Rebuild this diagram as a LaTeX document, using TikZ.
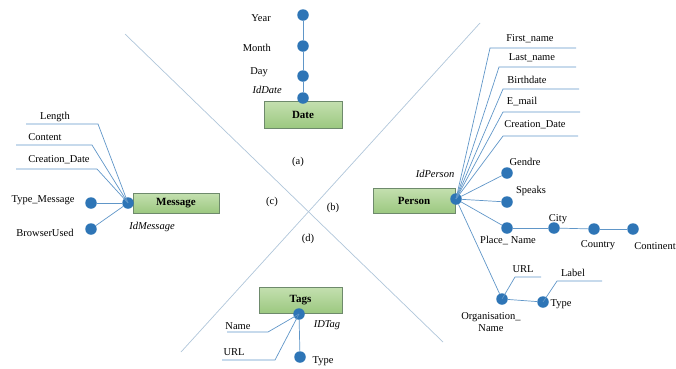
\documentclass[tikz,border=0pt]{standalone}
\usepackage{fontspec}
\setmainfont{Liberation Serif}
\usepackage{tikz}
\usetikzlibrary{positioning,calc}

\definecolor{dotblue}{RGB}{46,117,182}
\definecolor{lineblue}{RGB}{96,150,200}
\definecolor{divblue}{RGB}{176,198,218}
\definecolor{boxtop}{RGB}{196,224,176}
\definecolor{boxbot}{RGB}{156,200,128}
\definecolor{boxline}{RGB}{110,138,108}

\begin{document}
\begin{tikzpicture}[
    x=1pt, y=-1pt,
    entity/.style={
        rectangle,
        draw=boxline,
        top color=boxtop,
        bottom color=boxbot,
        minimum height=26pt,
        inner sep=0pt,
        font=\fontsize{11}{13}\selectfont\bfseries
    },
    attrdot/.style={
        circle,
        fill=dotblue,
        inner sep=0pt,
        minimum size=11.5pt
    },
    link/.style={draw=lineblue, line width=0.7pt},
    divider/.style={draw=divblue, line width=0.7pt},
    lbl/.style={
        font=\fontsize{10.5}{12}\selectfont,
        inner sep=1pt
    },
    idlbl/.style={
        lbl,
        font=\fontsize{10.5}{12}\selectfont\itshape
    }
]

\useasboundingbox (0,0) rectangle (676,368);

% ------------------------------------------------------------
% Dividers
% ------------------------------------------------------------

\coordinate (divA1) at (125,34);
\coordinate (divA2) at (443,342);
\coordinate (divB1) at (480,23);
\coordinate (divB2) at (181,352);

\draw[divider] (divA1) -- (divA2);
\draw[divider] (divB1) -- (divB2);

\node[lbl] (secA) at (298,162) {(a)};
\node[lbl] (secB) at (333,208) {(b)};
\node[lbl] (secC) at (272,202) {(c)};
\node[lbl] (secD) at (308,239) {(d)};

% ------------------------------------------------------------
% Entities
% ------------------------------------------------------------

\node[entity, minimum width=78pt, minimum height=27pt] (date) at (303,114.5) {Date};
\node[entity, minimum width=86pt, minimum height=20pt] (message) at (176,203) {Message};
\node[entity, minimum width=82pt, minimum height=25pt] (person) at (414,200.5) {Person};
\node[entity, minimum width=83pt, minimum height=26pt] (tags) at (300.5,300) {Tags};

% ------------------------------------------------------------
% Date
% ------------------------------------------------------------

\node[attrdot] (idDate) at (303,98) {};
\node[attrdot] (day)    at (303,76) {};
\node[attrdot] (month)  at (303,46) {};
\node[attrdot] (year)   at (303,15) {};

\draw[link] (idDate) -- (day);
\draw[link] (day) -- (month);
\draw[link] (month) -- (year);

\node[lbl, anchor=east] at (272,18) {Year};
\node[lbl, anchor=east] at (272,48) {Month};
\node[lbl, anchor=east] at (269,72) {Day};
\node[idlbl, anchor=east] at (283,90) {IdDate};

% ------------------------------------------------------------
% Message
% ------------------------------------------------------------

\node[attrdot] (idMessage) at (128,203) {};
\node[attrdot] (typeMsg)   at (91,203) {};
\node[attrdot] (browser)   at (91,229) {};

\draw[link] (idMessage) -- (typeMsg);
\draw[link] (idMessage) -- (browser);

\coordinate (lenR) at (98,124);  \coordinate (lenL) at (26,124);
\coordinate (conR) at (92,145);  \coordinate (conL) at (16,145);
\coordinate (creR) at (97,169);  \coordinate (creL) at (16,169);

\draw[link] (idMessage.center) -- (lenR) -- (lenL);
\draw[link] (idMessage.center) -- (conR) -- (conL);
\draw[link] (idMessage.center) -- (creR) -- (creL);

\node[lbl] at (55,117) {Length};
\node[lbl] at (45,137) {Content};
\node[lbl] at (59,160) {Creation\_Date};
\node[lbl] at (43,200) {Type\_Message};
\node[lbl] at (45,233) {BrowserUsed};
\node[idlbl] at (152,227) {IdMessage};

% ------------------------------------------------------------
% Person
% ------------------------------------------------------------

\node[attrdot] (idPerson) at (456,199) {};
\node[attrdot] (gendre)   at (507,173) {};
\node[attrdot] (speaks)   at (507,202) {};
\node[attrdot] (place)    at (507,228) {};
\node[attrdot] (city)     at (554,228) {};
\node[attrdot] (country)  at (594,229) {};
\node[attrdot] (continent) at (633,229) {};
\node[attrdot] (orgName)  at (502,299) {};
\node[attrdot] (orgType)  at (543,302) {};

\coordinate (fnB) at (490,48);  \coordinate (fnE) at (576,48);
\coordinate (lnB) at (499,67);  \coordinate (lnE) at (576,67);
\coordinate (bdB) at (503,89);  \coordinate (bdE) at (579,89);
\coordinate (emB) at (503,112); \coordinate (emE) at (580,112);
\coordinate (cdB) at (503,136); \coordinate (cdE) at (578,136);

\draw[link] (idPerson.center) -- (fnB) -- (fnE);
\draw[link] (idPerson.center) -- (lnB) -- (lnE);
\draw[link] (idPerson.center) -- (bdB) -- (bdE);
\draw[link] (idPerson.center) -- (emB) -- (emE);
\draw[link] (idPerson.center) -- (cdB) -- (cdE);

\draw[link] (idPerson) -- (gendre);
\draw[link] (idPerson) -- (speaks);
\draw[link] (idPerson) -- (place);
\draw[link] (idPerson) -- (orgName);
\draw[link] (place) -- (city);
\draw[link] (city) -- (country);
\draw[link] (country) -- (continent);
\draw[link] (orgName) -- (orgType);

\coordinate (urlB) at (515,277); \coordinate (urlE) at (541,277);
\coordinate (labB) at (557,281); \coordinate (labE) at (602,281);

\draw[link] (orgName.center) -- (urlB) -- (urlE);
\draw[link] (orgType.center) -- (labB) -- (labE);

\node[lbl] at (530,39)  {First\_name};
\node[lbl] at (532,58)  {Last\_name};
\node[lbl] at (527,80)  {Birthdate};
\node[lbl] at (522,102) {E\_mail};
\node[lbl] at (535,125) {Creation\_Date};
\node[idlbl] at (435,174) {IdPerson};
\node[lbl] at (525,162) {Gendre};
\node[lbl] at (531,191) {Speaks};
\node[lbl] at (508,241) {Place\_ Name};
\node[lbl] at (558,219) {City};
\node[lbl] at (598,245) {Country};
\node[lbl] at (655,246) {Continent};
\node[lbl, align=center] at (491,322) {Organisation\_\\Name};
\node[lbl] at (523,269) {URL};
\node[lbl] at (561,304) {Type};
\node[lbl] at (573,273) {Label};

% ------------------------------------------------------------
% Tags
% ------------------------------------------------------------

\node[attrdot] (idTag)   at (299,314) {};
\node[attrdot] (tagType) at (300,357) {};

\draw[link] (idTag) -- (tagType);

\coordinate (nameB) at (268,332); \coordinate (nameE) at (227,332);
\coordinate (turlB) at (275,360); \coordinate (turlE) at (222,360);

\draw[link] (idTag.center) -- (nameB) -- (nameE);
\draw[link] (idTag.center) -- (turlB) -- (turlE);

\node[lbl] at (238,326) {Name};
\node[lbl] at (234,352) {URL};
\node[lbl] at (323,361) {Type};
\node[idlbl] at (327,325) {IDTag};

\end{tikzpicture}
\end{document}
